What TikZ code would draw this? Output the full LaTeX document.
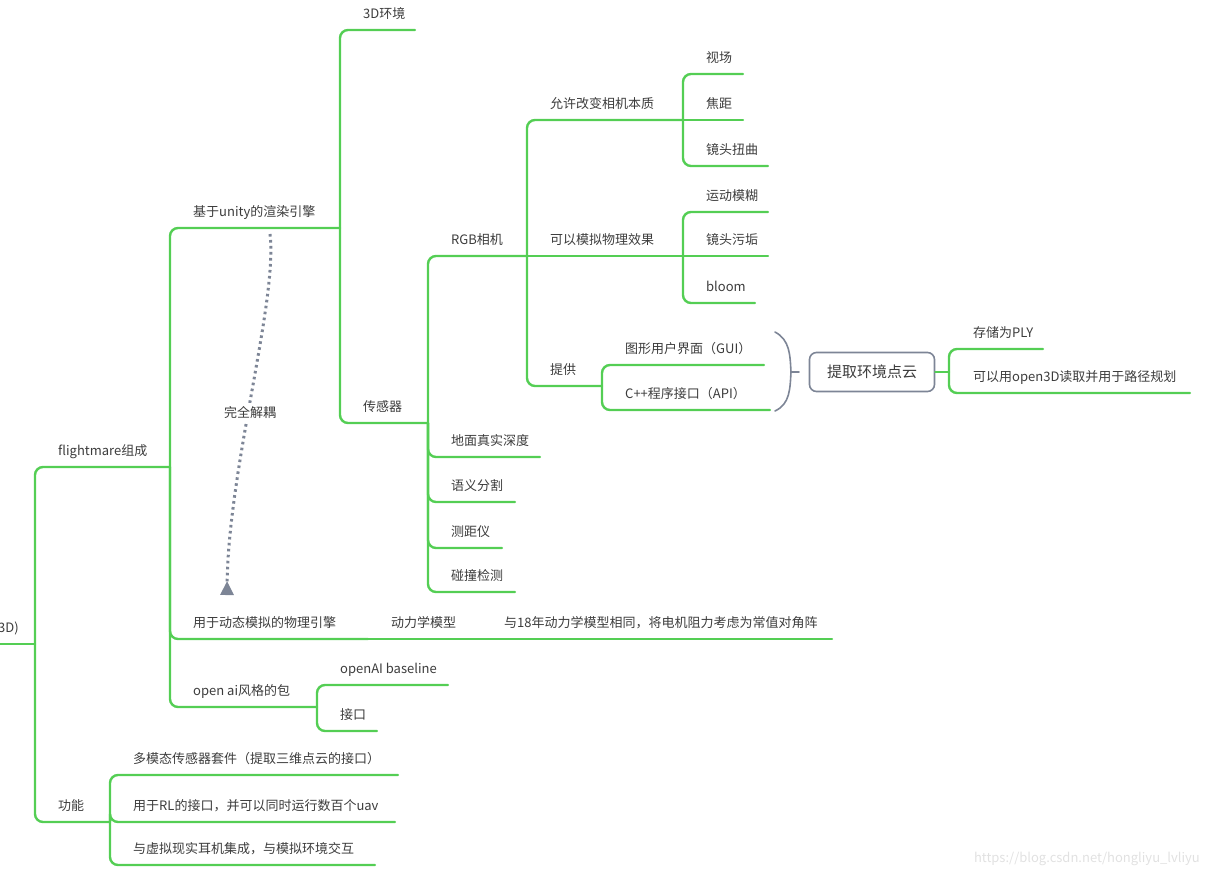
\documentclass[tikz,border=0pt]{standalone}
\usepackage{fontspec}
\setmainfont{Noto Sans CJK SC}
\usetikzlibrary{arrows.meta}
\definecolor{mapgreen}{RGB}{84,206,84}
\definecolor{relgray}{RGB}{125,133,150}
\definecolor{txtgray}{RGB}{60,60,60}
\definecolor{markgray}{RGB}{225,225,225}

\begin{document}
\begin{tikzpicture}[x=1pt,y=-1pt,
 every node/.style={font=\fontsize{13}{15}\selectfont,text=txtgray,inner sep=0pt},
 lbl/.style={anchor=base west,xshift=23pt,yshift=12pt},
 branch/.style={draw=mapgreen,line width=2.4pt,rounded corners=8pt,line cap=round},
 rel/.style={draw=relgray,line width=3pt,dash pattern=on 2.6pt off 3.4pt},
 brace/.style={draw=relgray,line width=1.6pt,line cap=round}]
\useasboundingbox (0,0) rectangle (1209,876);
\node[anchor=base east] (root) at (19,632) {3D)};
\coordinate (root-s) at (0,644); \coordinate (root-e) at (35,644);
\node[lbl] (fm) at (35,467) {flightmare组成}; \coordinate (fm-e) at (170,467);
\node[lbl] (func) at (35,822) {功能}; \coordinate (func-e) at (110,822);
\node[lbl] (unity) at (170,228) {基于unity的渲染引擎}; \coordinate (unity-e) at (340,228);
\node[lbl] (phys) at (170,639) {用于动态模拟的物理引擎}; \coordinate (phys-e) at (368,639);
\node[lbl] (dyn) at (368,639) {动力学模型}; \coordinate (dyn-e) at (481,639);
\node[lbl] (note) at (481,639) {与18年动力学模型相同，将电机阻力考虑为常值对角阵}; \coordinate (note-e) at (832,639);
\node[lbl] (oai) at (170,707) {open ai风格的包}; \coordinate (oai-e) at (317,707);
\node[lbl] (base) at (317,685) {openAI baseline}; \coordinate (base-e) at (448,685);
\node[lbl] (iface) at (317,731) {接口}; \coordinate (iface-e) at (377,731);
\node[lbl] (env) at (340,30) {3D环境}; \coordinate (env-e) at (415,30);
\node[lbl] (sensor) at (340,423) {传感器}; \coordinate (sensor-e) at (428,423);
\node[lbl] (rgb) at (428,256) {RGB相机}; \coordinate (rgb-e) at (527,256);
\node[lbl] (depth) at (428,457) {地面真实深度}; \coordinate (depth-e) at (540,457);
\node[lbl] (seg) at (428,502) {语义分割}; \coordinate (seg-e) at (515,502);
\node[lbl] (range) at (428,548) {测距仪}; \coordinate (range-e) at (502,548);
\node[lbl] (coll) at (428,592) {碰撞检测}; \coordinate (coll-e) at (515,592);
\node[lbl] (intr) at (527,120) {允许改变相机本质}; \coordinate (intr-e) at (683,120);
\node[lbl] (fx) at (527,256) {可以模拟物理效果}; \coordinate (fx-e) at (683,256);
\node[lbl] (prov) at (527,386) {提供}; \coordinate (prov-e) at (602,386);
\node[lbl] (fov) at (683,74) {视场}; \coordinate (fov-e) at (743,74);
\node[lbl] (focal) at (683,120) {焦距}; \coordinate (focal-e) at (743,120);
\node[lbl] (distort) at (683,166) {镜头扭曲}; \coordinate (distort-e) at (768,166);
\node[lbl] (blur) at (683,212) {运动模糊}; \coordinate (blur-e) at (768,212);
\node[lbl] (dirt) at (683,256) {镜头污垢}; \coordinate (dirt-e) at (768,256);
\node[lbl] (bloom) at (683,303) {bloom}; \coordinate (bloom-e) at (755,303);
\node[lbl] (gui) at (602,365) {图形用户界面（GUI）}; \coordinate (gui-e) at (764,365);
\node[lbl] (api) at (602,410) {C++程序接口（API）}; \coordinate (api-e) at (770,410);
\node[draw=relgray,line width=1.6pt,rounded corners=7pt,minimum width=125pt,minimum height=39pt,
 font=\fontsize{15}{17}\selectfont] (cloud) at (872,372) {提取环境点云};
\coordinate (cloud-j) at (949,372);
\node[lbl,xshift=1pt] (ply) at (949,349) {存储为PLY}; \coordinate (ply-e) at (1043,349);
\node[lbl,xshift=1pt] (o3d) at (949,393) {可以用open3D读取并用于路径规划}; \coordinate (o3d-e) at (1190,393);
\node[lbl] (multi) at (110,775) {多模态传感器套件（提取三维点云的接口）}; \coordinate (multi-e) at (398,775);
\node[lbl] (rl) at (110,822) {用于RL的接口，并可以同时运行数百个uav}; \coordinate (rl-e) at (395,822);
\node[lbl] (vr) at (110,865) {与虚拟现实耳机集成，与模拟环境交互}; \coordinate (vr-e) at (375,865);
\draw[branch] (root-s) -- (root-e);
\draw[branch] (root-e) |- (fm-e); \draw[branch] (root-e) |- (func-e);
\draw[branch] (fm-e) |- (unity-e); \draw[branch] (fm-e) |- (phys-e); \draw[branch] (fm-e) |- (oai-e);
\draw[branch] (phys-e) -- (dyn-e); \draw[branch] (dyn-e) -- (note-e);
\draw[branch] (oai-e) |- (base-e); \draw[branch] (oai-e) |- (iface-e);
\draw[branch] (unity-e) |- (env-e); \draw[branch] (unity-e) |- (sensor-e);
\foreach \k in {rgb,depth,seg,range,coll} \draw[branch] (sensor-e) |- (\k-e);
\draw[branch] (rgb-e) |- (intr-e); \draw[branch] (rgb-e) -- (fx-e); \draw[branch] (rgb-e) |- (prov-e);
\draw[branch] (intr-e) |- (fov-e); \draw[branch] (intr-e) -- (focal-e); \draw[branch] (intr-e) |- (distort-e);
\draw[branch] (fx-e) |- (blur-e); \draw[branch] (fx-e) -- (dirt-e); \draw[branch] (fx-e) |- (bloom-e);
\draw[branch] (prov-e) |- (gui-e); \draw[branch] (prov-e) |- (api-e);
\draw[branch] (cloud.east) -- (cloud-j);
\draw[branch] (cloud-j) |- (ply-e); \draw[branch] (cloud-j) |- (o3d-e);
\foreach \k in {multi,rl,vr} \draw[branch] (func-e) |- (\k-e);
\coordinate (br-top) at (775,332); \coordinate (br-mid) at (791,372); \coordinate (br-bot) at (775,411);
\draw[brace] (br-top) .. controls (790,340) and (790,355) .. (br-mid) .. controls (790,389) and (790,404) .. (br-bot);
\draw[brace] (br-mid) -- ++(8,0);
\coordinate (dec-s) at (270,234); \coordinate (dec-t) at (227,595);
\draw[rel,-{Triangle[reversed,length=14pt,width=13pt,fill=relgray]}]
 (dec-s) .. controls (278,300) and (228,470) .. (dec-t);
\node[fill=white,inner sep=3pt] (decouple) at (250,412) {完全解耦};
\node[anchor=base east,text=markgray] (mark) at (1200,862) {https://blog.csdn.net/hongliyu\_lvliyu};
\end{tikzpicture}
\end{document}
